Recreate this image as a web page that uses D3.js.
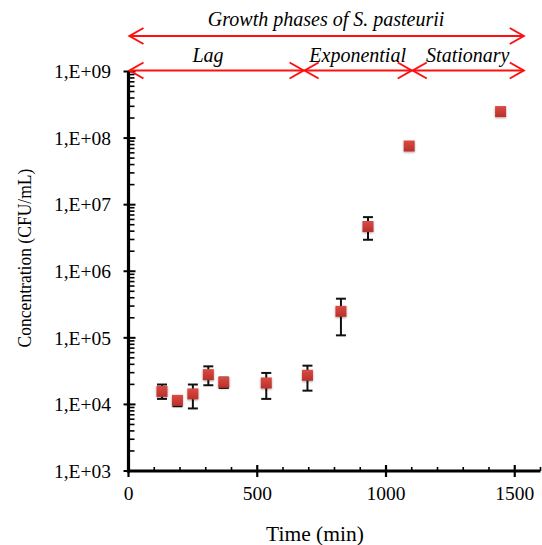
<!DOCTYPE html>
<html>
<head>
<meta charset="utf-8">
<script src="https://cdn.jsdelivr.net/npm/d3@7"></script>
<style>
	body { margin: 0; background: #fff; }
	svg { display: block; font-family: "Liberation Serif", "Times New Roman", serif; }
</style>
</head>
<body>
<div id="chart"></div>
<script>
// values
const times = [130, 190, 250, 310, 370, 535, 695, 825, 930, 1090, 1445]; // min
const cfu = [1.57e4, 1.15e4, 1.44e4, 2.8e4, 2.15e4, 2.1e4, 2.74e4, 2.5e5, 4.7e6, 7.6e7, 2.5e8];
const errPlus = [4.2e3, 1.5e3, 5.5e3, 9.3e3, 3.8e3, 8.7e3, 1.08e4, 1.37e5, 1.8e6, 0, 0];
const errMinus = [3.6e3, 2.1e3, 5.7e3, 8.6e3, 3.8e3, 8.9e3, 1.13e4, 1.41e5, 1.73e6, 0, 0];

const xTicks = [0, 500, 1000, 1500];
const yTicks = [1e3, 1e4, 1e5, 1e6, 1e7, 1e8, 1e9];
const yTickLabels = ["1,E+03", "1,E+04", "1,E+05", "1,E+06", "1,E+07", "1,E+08", "1,E+09"];

const phaseEdges = [0, 680, 1100, 1535];
const phaseNames = ["Lag", "Exponential", "Stationary"];
const overallTitle = ["Growth phases of ", "S. pasteurii"];

const W = 542, H = 545;
const svg = d3.select("#chart").append("svg").attr("width", W).attr("height", H);

const x = d3.scaleLinear().domain([0, 1600]).range([128.5, 540.5]);
const y = d3.scaleLog().domain([1e3, 1e9]).range([471, 71.5]);

const defs = svg.append("defs");
const grad = defs.append("linearGradient").attr("id", "mk").attr("x1", 0).attr("y1", 0).attr("x2", 0).attr("y2", 1);
grad.append("stop").attr("offset", "0%").attr("stop-color", "#dc4a42");
grad.append("stop").attr("offset", "100%").attr("stop-color", "#b8302b");
const shadow = defs.append("filter").attr("id", "sh").attr("x", "-50%").attr("y", "-50%").attr("width", "200%").attr("height", "200%");
shadow.append("feDropShadow").attr("dx", 0).attr("dy", 1).attr("stdDeviation", 1).attr("flood-color", "#000").attr("flood-opacity", 0.35);

// --- axes ---
const axisColor = "#000";
const g = svg.append("g");

// minor y ticks (inside)
const yMinor = [];
for (let e = 3; e < 9; ++e) {
	for (let m = 2; m <= 9; ++m) yMinor.push(m * Math.pow(10, e));
}
g.selectAll(".yminor").data(yMinor).join("line")
	.attr("x1", x(0)).attr("x2", x(0) + 6)
	.attr("y1", d => y(d)).attr("y2", d => y(d))
	.attr("stroke", axisColor).attr("stroke-width", 1.6);

g.selectAll(".ymajor").data(yTicks).join("line")
	.attr("x1", x(0) - 5).attr("x2", x(0) + 7)
	.attr("y1", d => y(d)).attr("y2", d => y(d))
	.attr("stroke", axisColor).attr("stroke-width", 2);

g.selectAll(".ylab").data(yTicks).join("text")
	.attr("x", 111).attr("y", d => y(d))
	.attr("dy", "0.35em")
	.attr("text-anchor", "end")
	.attr("font-size", 19.5)
	.text((d, i) => yTickLabels[i]);

// x ticks
const xMinor = d3.range(100, 1601, 100).filter(d => d % 500 != 0);
g.selectAll(".xminor").data(xMinor).join("line")
	.attr("x1", d => x(d)).attr("x2", d => x(d))
	.attr("y1", y(1e3)).attr("y2", y(1e3) - 4)
	.attr("stroke", axisColor).attr("stroke-width", 1.6);

g.selectAll(".xmajor").data(xTicks).join("line")
	.attr("x1", d => x(d)).attr("x2", d => x(d))
	.attr("y1", y(1e3) - 6).attr("y2", y(1e3) + 6)
	.attr("stroke", axisColor).attr("stroke-width", 2.2);

g.selectAll(".xlab").data(xTicks).join("text")
	.attr("x", d => x(d)).attr("y", 500)
	.attr("text-anchor", "middle")
	.attr("font-size", 19.5)
	.text(d => d);

// axis lines
g.append("line").attr("x1", x(0)).attr("x2", x(0)).attr("y1", y(1e9)).attr("y2", y(1e3) + 1.5)
	.attr("stroke", axisColor).attr("stroke-width", 3.2);
g.append("line").attr("x1", x(0) - 1.5).attr("x2", x(1600)).attr("y1", y(1e3)).attr("y2", y(1e3))
	.attr("stroke", axisColor).attr("stroke-width", 3.2);

// axis titles
svg.append("text")
	.attr("x", 315).attr("y", 541)
	.attr("text-anchor", "middle").attr("font-size", 21.5)
	.text("Time (min)");
svg.append("text")
	.attr("transform", "translate(31, 258) rotate(-90) scale(0.9, 1)")
	.attr("text-anchor", "middle").attr("font-size", 19.5)
	.text("Concentration (CFU/mL)");

// --- error bars ---
const pts = times.map((t, i) => ({t: t, v: cfu[i], hi: cfu[i] + errPlus[i], lo: cfu[i] - errMinus[i]}));
const eb = svg.append("g").attr("stroke", "#111").attr("stroke-width", 2);
const withErr = pts.filter(d => d.hi > d.v);
eb.selectAll(".ev").data(withErr).join("line")
	.attr("x1", d => x(d.t)).attr("x2", d => x(d.t))
	.attr("y1", d => y(d.hi)).attr("y2", d => y(d.lo));
eb.selectAll(".et").data(withErr).join("line")
	.attr("x1", d => x(d.t) - 5).attr("x2", d => x(d.t) + 5)
	.attr("y1", d => y(d.hi)).attr("y2", d => y(d.hi));
eb.selectAll(".eb").data(withErr).join("line")
	.attr("x1", d => x(d.t) - 5).attr("x2", d => x(d.t) + 5)
	.attr("y1", d => y(d.lo)).attr("y2", d => y(d.lo));

// --- markers ---
const ms = 11;
svg.append("g").selectAll("rect").data(pts).join("rect")
	.attr("x", d => x(d.t) - ms / 2).attr("y", d => y(d.v) - ms / 2)
	.attr("width", ms).attr("height", ms)
	.attr("fill", "url(#mk)")
	.attr("filter", "url(#sh)");

// --- growth phase arrows ---
const red = "#ff1010";
const arrows = svg.append("g").attr("stroke", red).attr("stroke-width", 2).attr("fill", "none");

function arrow(x0, x1, yy) {
	const hl = 14, hw = 8;
	arrows.append("line").attr("x1", x0).attr("x2", x1).attr("y1", yy).attr("y2", yy);
	arrows.append("path").attr("d", `M${x0 + hl},${yy - hw}L${x0},${yy}L${x0 + hl},${yy + hw}`);
	arrows.append("path").attr("d", `M${x1 - hl},${yy - hw}L${x1},${yy}L${x1 - hl},${yy + hw}`);
}

const topY = 36;
const phaseY = y(1e9) - 1;
arrow(x(phaseEdges[0]) + 1, x(phaseEdges[phaseEdges.length - 1]), topY);
for (let i = 0; i < phaseNames.length; ++i) {
	arrow(x(phaseEdges[i]) + 1, x(phaseEdges[i + 1]), phaseY);
}

const title = svg.append("text")
	.attr("x", (x(phaseEdges[0]) + x(phaseEdges[phaseEdges.length - 1])) / 2)
	.attr("y", 25.5)
	.attr("text-anchor", "middle").attr("font-size", 20).attr("font-style", "italic");
title.append("tspan").text(overallTitle[0]);
title.append("tspan").text(overallTitle[1]);

svg.append("g").selectAll("text").data(phaseNames).join("text")
	.attr("x", (d, i) => (x(phaseEdges[i]) + x(phaseEdges[i + 1])) / 2 - (i == 0 ? 8 : 0))
	.attr("y", 61.5)
	.attr("text-anchor", "middle").attr("font-size", 20).attr("font-style", "italic")
	.text(d => d);
</script>
</body>
</html>
